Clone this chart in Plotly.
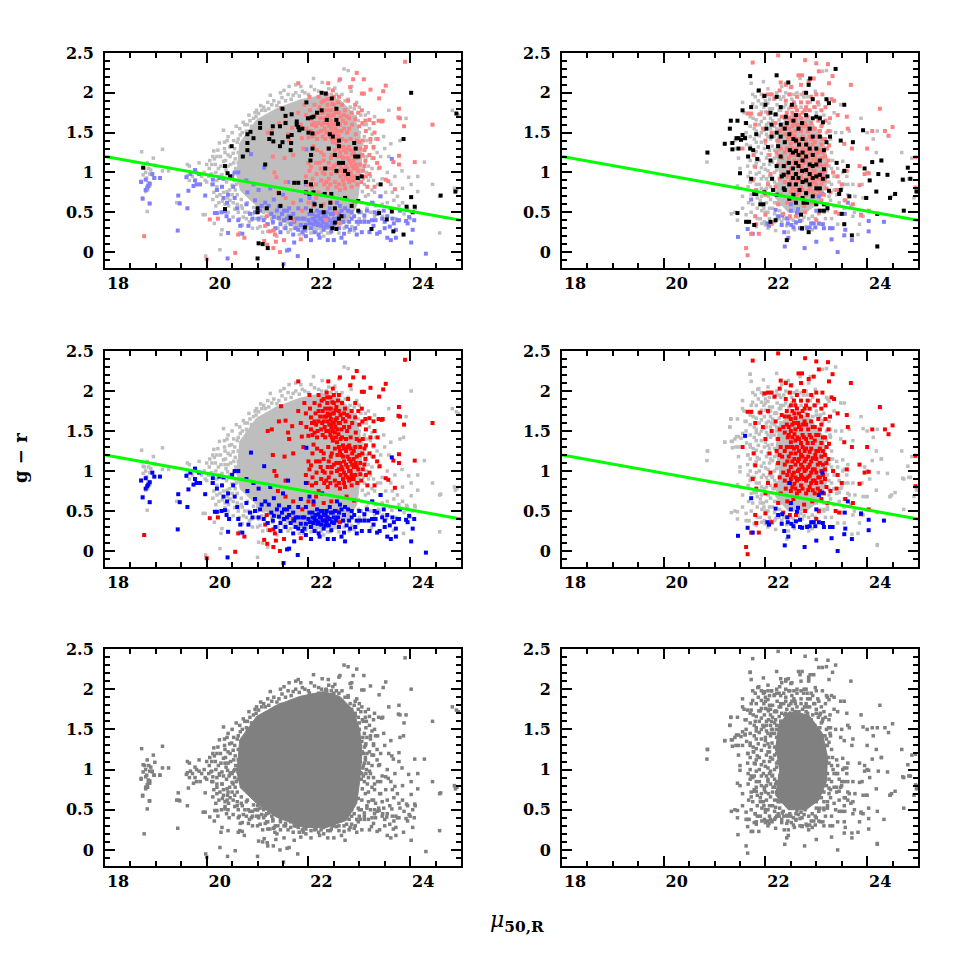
import plotly.graph_objects as go
from plotly.subplots import make_subplots

# values; the overplotted centre of each cloud is an outline
xticks = [18, 20, 22, 24]
yticks = [0, 0.5, 1, 1.5, 2, 2.5]
ylabels = ["0", "0.5", "1", "1.5", "2", "2.5"]
line_x = [18, 25]
line_y = [1.2, 0.4]

left_core = [(20.59,0.95),(20.65,1.37),(20.98,1.66),(21.37,1.80),(21.83,1.91),(22.29,1.97),(22.62,1.91),(22.88,1.74),
 (23.01,1.49),(23.05,1.20),(23.01,0.87),(22.95,0.58),(22.75,0.37),(22.36,0.28),(21.90,0.28),(21.37,0.41),(20.98,0.58),(20.65,0.78)]

right_core = [(22.25,1.55),(22.47,1.72),(22.85,1.68),(23.12,1.45),(23.22,1.16),(23.2,0.85),(23.05,0.62),(22.8,0.5),
 (22.45,0.5),(22.2,0.68),(22.28,0.99),(22.2,1.3)]

left_gray = [(18.72,1.26),(18.71,0.89),(18.75,0.97),(18.78,1.05),(18.83,1.12),(18.86,1.05),(18.95,1.18),(18.98,1.09),(18.88,0.98),
 (18.82,0.93),(18.85,0.87),(18.88,0.83),(18.8,0.76),(18.74,0.68),(18.83,0.51),(18.87,0.61),(19.13,1.29),(19.08,0.93),(19.13,1.02),
 (19.25,1.02),(18.96,0.93),(18.8,1.0),(18.9,1.03),(18.93,0.97),(18.84,0.78),(19.41,0.62),(19.45,0.62),(19.62,1.1),(19.66,1.08),
 (19.62,0.96),(19.66,0.9),(19.85,1.12),(19.8,1.0),(19.72,0.95),(19.9,0.95),(19.95,1.0),(19.97,0.9),(20.0,0.88),(19.93,0.47),(19.97,0.47),
 (20.0,1.1),(19.98,-0.05),(20.15,0.36),(20.26,0.03),(20.28,0.22),(20.3,0.28),(20.05,1.05),(20.06,1.15),(20.08,0.97),(20.1,0.85),
 (20.12,1.2),(20.14,1.27),(20.17,1.1),(20.18,1.0),(20.2,0.9),(20.2,0.82),(20.2,0.7),(20.22,1.28),(20.25,1.37),(20.27,1.2),(20.28,1.08),
 (20.3,0.97),(20.3,0.82),(20.31,0.64),(20.33,1.53),(20.35,1.38),(20.36,1.25),(20.37,1.15),(20.38,1.03),(20.39,0.88),(20.4,0.76),
 (20.41,0.68),(20.43,0.58),(20.45,1.32),(20.46,1.2),(20.47,1.1),(20.48,0.96),(20.5,0.84),(20.5,0.72),(20.52,0.62),(20.53,1.4),
 (20.55,1.3),(20.56,1.17),(20.57,1.05),(20.58,0.85),(20.6,0.72),(20.6,0.6),(20.62,0.5),(20.65,1.55),(20.66,1.47),(20.68,0.66),
 (20.7,0.55),(20.72,0.44),(20.75,1.6),(20.78,1.52),(20.8,0.62),(20.82,0.5),(20.84,0.38),(20.85,1.65),(20.88,1.58),(20.9,0.48),
 (20.95,1.75),(20.97,1.7),(21.0,0.5),(21.02,0.4),(21.05,0.32),(21.08,1.78),(21.12,1.82),(21.15,0.43),(21.18,0.35),(21.2,0.26),
 (21.25,1.97),(21.28,1.85),(21.3,0.36),(21.33,0.28),(21.38,0.2),(21.42,1.88),(21.48,1.94),(21.52,2.03),(21.55,0.33),(21.6,0.25),
 (21.62,2.08),(21.7,1.97),(21.75,2.1),(21.78,0.3),(21.82,0.22),(21.88,2.02),(21.93,2.0),(22.05,2.08),(22.1,2.18),(22.2,2.02),
 (22.27,2.13),(22.3,0.2),(22.4,2.05),(22.43,0.24),(22.52,2.06),(22.6,2.15),(22.7,2.3),(22.78,2.28),(22.84,2.02),(22.85,2.08),
 (22.9,0.27),(22.95,1.88),(23.0,1.82),(23.03,1.72),(23.08,1.6),(23.1,1.45),(23.12,1.3),(23.12,1.12),(23.14,1.0),(23.1,0.85),
 (23.12,0.7),(23.15,0.55),(23.1,0.42),(23.18,1.75),(23.2,1.55),(23.22,1.38),(23.25,1.18),(23.22,0.95),(23.25,0.78),(23.28,0.62),
 (23.22,0.5),(23.3,1.7),(23.32,1.42),(23.35,1.25),(23.38,1.05),(23.36,0.85),(23.4,0.7),(23.38,0.52),(23.48,1.45),(23.5,1.3),(23.55,1.0),
 (23.52,0.75),(23.55,0.62),(23.58,1.78),(23.62,1.36),(23.65,0.75),(23.68,0.65),(23.7,0.95),(23.72,0.42),(23.8,1.4),(23.84,1.02),
 (23.85,0.8),(23.92,1.68),(23.97,0.94),(24.02,0.85),(24.1,0.55),(24.15,0.95),(24.15,0.76),(24.28,1.13),(24.44,0.85),(24.58,0.7),
 (24.58,0.24),(24.83,1.78),(24.87,0.8),(24.95,1.72),(24.92,0.78),
 (20.42,1.45),(20.5,1.5),(20.58,1.58),(20.62,1.42),(20.7,1.5),(20.72,1.63),(20.8,1.6),(20.83,1.72),(20.92,1.68),(20.98,1.78),(21.02,1.74),(21.06,1.84),(21.15,1.78),(21.2,1.88),
 (21.22,1.8),(21.32,1.9),(21.38,1.84),(21.45,2.0),(21.55,1.9),(21.6,1.98),(21.66,1.92),(21.75,2.0),(21.82,1.96),(21.85,2.08),(22.0,1.98),(22.12,2.04),(22.35,2.0),(22.45,1.98),
 (22.55,1.98),(22.66,1.98),(22.72,1.9),(22.78,1.92),(22.82,1.82),(22.9,1.8),(22.92,1.7),(22.98,1.65),(23.0,1.5),(23.05,1.35),(23.08,1.2),(23.08,1.05),(23.08,0.92),(23.06,0.76),
 (23.05,0.62),(23.04,0.5),(23.0,0.42),(22.98,0.35),(22.85,0.32),(22.8,0.25),(22.7,0.3),(22.6,0.24),(22.5,0.3),(22.38,0.24),(22.25,0.25),(22.15,0.26),(22.05,0.24),(21.95,0.26),
 (21.9,0.22),(21.72,0.3),(21.65,0.28),(21.68,0.36),(21.52,0.3),(21.45,0.38),(21.4,0.3),(21.28,0.42),(21.22,0.46),(21.12,0.5),(21.08,0.44),(20.98,0.42),(20.92,0.56),(20.88,0.4),
 (20.75,0.5),(20.68,0.58),(20.64,0.42),(20.55,0.54),(20.52,0.44),(20.46,0.65),(20.42,0.5),(20.36,0.6),(20.33,0.75),(20.26,0.72),(20.24,0.62),(20.18,0.58),(20.14,0.75),(20.12,0.66),
 (20.1,0.98),(20.04,0.95),(20.1,1.1),(20.15,1.17),(20.2,1.2),(20.23,1.05),(20.25,0.95),(20.33,1.14),(20.35,1.3),(20.4,1.4),(20.42,1.22),(20.42,1.08),(20.44,0.92),(20.45,0.78),
 (20.52,1.24),(20.53,1.12),(20.53,0.98),(20.55,0.9),(20.56,0.78),(20.6,1.38),(20.62,1.25),(20.62,1.12),(20.6,1.0),(20.62,0.88),(23.15,1.2),(23.18,1.08),(23.18,0.9),(23.18,0.72),
 (23.18,0.6),(23.25,1.05),(23.28,0.9),(23.3,0.75),(23.32,0.58),(23.3,0.45),(23.15,1.4),(23.14,1.6),(23.12,1.72),(23.25,1.48),(23.28,1.3),(23.42,1.2),(23.45,0.92),(23.45,0.6),(23.46,0.45),
 (23.58,1.2),(23.6,0.55),(23.62,0.85),(23.75,0.7),(23.78,0.58),(23.85,0.62),(23.88,0.48),(23.95,0.55),(24.0,0.42),(20.65,0.24),(20.7,0.34),(20.78,0.42),(20.9,0.3),(21.0,0.3),(21.1,0.25)]

left_red = [(23.9,2.39),(22.95,2.25),(22.88,2.17),(23.09,2.17),(21.8,2.12),(22.39,2.12),(22.62,2.17),(22.82,2.07),(23.52,2.09),(23.22,2.04),
 (23.47,2.02),(23.05,1.99),(23.09,1.99),(23.39,1.93),(22.02,1.95),(21.46,1.81),(24.44,1.6),(23.78,1.8),(23.77,1.69),(23.8,1.68),(23.88,1.58),
 (24.09,1.13),(23.78,1.21),(23.78,1.10),(23.67,1.13),(23.7,0.79),(23.52,0.91),(23.57,0.89),(18.77,0.2),(20.06,0.41),(20.22,0.42),(20.0,-0.09),
 (20.56,-0.01),(20.62,0.22),(20.74,0.18),(21.13,0.14),(21.19,0.09),(21.31,0.05),(21.44,0),(21.36,0.13),(21.52,0.15),(21.24,0.26),(21.31,0.27),
 (21.18,0.45),(21.15,0.33),(21.34,0.22),(21.85,0.16),(21.28,1.52),(21.2,1.5),(21.42,1.62),(21.55,1.63),(21.6,1.48),(21.62,1.4),(21.68,1.56),
 (21.3,1.2),(21.53,1.18),(21.7,1.22),(21.33,1.0),(21.37,0.94),(21.55,0.88),(21.4,0.75),(21.55,0.68),(21.7,0.62),
 (21.8,1.75),(21.85,1.6),(21.87,1.43),(21.9,1.3),(21.92,1.85),(21.95,1.72),(21.96,1.55),(22.0,1.44),(22.0,1.12),(22.02,1.02),(21.95,0.95),
 (21.98,0.85),(22.03,1.78),(22.05,1.67),(22.07,1.6),(22.08,1.45),(22.1,1.33),(22.08,1.22),(22.05,1.07),(22.08,0.92),(22.07,0.82),
 (22.12,1.85),(22.14,1.72),(22.15,1.58),(22.17,1.42),(22.17,1.28),(22.15,1.12),(22.16,0.98),(22.15,0.85),(22.2,0.75),
 (22.2,1.95),(22.22,1.82),(22.23,1.68),(22.25,1.52),(22.25,1.25),(22.24,1.05),(22.25,0.9),(22.27,1.6),(22.28,1.75),(22.3,1.9),
 (22.31,1.68),(22.32,1.55),(22.33,1.42),(22.3,1.15),(22.32,0.98),(22.31,0.85),(22.36,1.98),(22.37,1.85),(22.38,1.72),(22.38,1.62),
 (22.4,1.5),(22.39,1.3),(22.38,1.05),(22.4,0.92),(22.38,0.8),(22.43,1.92),(22.44,1.78),(22.44,1.65),(22.45,1.55),(22.46,1.42),(22.44,1.18),
 (22.45,0.98),(22.48,2.03),(22.5,1.85),(22.5,1.72),(22.5,1.6),(22.52,1.48),(22.52,1.28),(22.5,1.08),(22.52,0.88),(22.55,1.8),(22.56,1.66),
 (22.57,1.52),(22.56,1.36),(22.57,1.2),(22.56,1.0),(22.55,0.82),(22.6,1.95),(22.6,1.75),(22.62,1.6),(22.63,1.4),(22.62,1.25),(22.62,1.1),
 (22.63,0.95),(22.6,0.85),(22.66,1.85),(22.68,1.65),(22.68,1.32),(22.68,1.18),(22.67,1.02),(22.68,0.9),(22.72,1.78),(22.73,1.62),(22.74,1.4),
 (22.74,1.25),(22.74,1.08),(22.73,0.95),(22.72,0.8),(22.78,1.9),(22.8,1.68),(22.8,1.55),(22.8,1.32),(22.8,1.15),(22.8,1.0),(22.8,0.88),
 (22.85,1.75),(22.86,1.6),(22.86,1.22),(22.86,1.08),(22.85,0.95),(22.85,0.82),(22.92,1.85),(22.92,1.67),(22.93,1.48),(22.92,1.3),(22.93,1.1),
 (22.92,0.95),(22.98,1.75),(23.0,1.58),(23.0,1.38),(23.0,1.2),(22.98,1.02),(23.05,1.78),(23.06,1.62),(23.07,1.4),(23.06,1.22),(23.07,1.02),
 (23.04,0.88),(23.12,1.65),(23.13,1.52),(23.13,1.32),(23.12,1.15),(23.13,0.95),(23.2,1.66),(23.22,1.42),(23.2,1.22),(23.2,0.98),(23.16,0.82),
 (23.28,1.62),(23.3,1.5),(23.28,1.32),(23.28,1.18),(23.3,0.82),(23.38,1.65),(23.36,1.42),(23.35,1.12),(23.4,1.06),(23.44,1.64),(23.46,1.65),
 (21.7,0.4),(22.0,0.62),(22.1,0.58),(22.3,0.6),(22.45,0.62),(22.55,0.5),(22.62,0.36),(22.35,0.4),(21.88,0.52),(22.15,0.68),(22.75,0.68),(22.9,0.63),
 (22.2,1.75),(22.26,1.88),(22.3,1.62),(22.33,1.78),(22.35,1.68),(22.35,1.5),(22.37,1.92),(22.4,1.78),(22.41,1.58),(22.42,1.7),(22.43,1.45),(22.47,1.86),(22.47,1.72),(22.47,1.6),(22.48,1.5),
 (22.48,1.38),(22.5,1.95),(22.53,1.76),(22.53,1.64),(22.53,1.55),(22.54,1.42),(22.58,1.88),(22.59,1.6),(22.59,1.46),(22.6,1.3),(22.63,1.7),(22.65,1.52),(22.66,1.42),(22.65,1.2),(22.65,1.05),
 (22.7,1.72),(22.7,1.55),(22.7,1.28),(22.7,1.12),(22.7,0.98),(22.7,0.85),(22.76,1.7),(22.76,1.5),(22.77,1.3),(22.77,1.18),(22.77,1.05),(22.77,0.92),(22.83,1.42),(22.83,1.28),(22.83,1.12),(22.83,1.0),
 (22.83,0.9),(22.89,1.25),(22.89,1.15),(22.89,1.05),(22.89,0.9),(22.95,1.4),(22.95,1.18),(22.95,1.05),(22.96,0.85),(23.02,1.3),(23.02,1.1),(23.02,0.96),(23.1,1.28),(23.1,1.08),(22.2,1.62),(22.18,1.5),
 (22.12,1.62),(22.12,1.48),(22.05,1.52),(22.28,1.45),(22.3,1.22),(22.22,1.12),(22.28,1.0),(22.4,1.12),(22.46,1.22),(22.46,1.05),(22.35,0.88),(22.43,0.85),(22.55,1.1),(22.6,1.02),(22.62,0.78)]

left_blue = [(18.71,0.88),(18.8,0.91),(18.93,0.98),(18.97,0.93),(19.08,0.93),(18.88,0.86),(18.85,0.83),(18.83,0.81),(18.8,0.78),(18.74,0.67),
 (18.88,0.61),(19.44,0.71),(19.47,0.61),(19.43,0.27),(19.62,0.55),(19.6,0.94),(19.68,0.98),(19.77,1.03),(19.85,0.98),(19.64,0.77),(19.74,0.83),
 (19.8,0.85),(19.87,0.85),(19.77,0.9),(19.97,0.71),(20.12,0.91),(20.25,0.93),(20.33,0.92),(20.16,0.49),(20.2,0.49),(20.29,0.5),(20.36,0.51),
 (20.39,0.45),(20.44,0.4),(20.42,0.24),(20.41,-0.08),(21.51,-0.15),(21.79,-0.05),(24.31,-0.02),(24.02,0.12),(20.87,1.23),(21.13,1.06),(21.96,1.29),
 (23.64,1.17),(20.12,0.85),(20.2,0.78),(20.3,0.82),(20.33,0.68),(20.4,0.62),(20.42,0.72),(20.5,0.95),(20.55,1.0),(20.62,1.0),(20.52,0.82),
 (20.55,0.68),(20.6,0.55),(20.62,0.4),(20.66,0.33),(20.7,0.23),(20.78,0.9),(20.8,0.75),(20.78,0.6),(20.85,0.48),(20.82,0.33),(20.92,0.85),
 (20.95,0.65),(20.95,0.5),(21.02,0.42),(21.02,0.78),(21.08,0.58),(21.12,0.4),(21.2,0.35),(21.25,0.8),(21.22,0.58),(21.27,0.48),(21.3,0.38),
 (21.35,0.3),(21.32,0.66),(21.42,0.57),(21.42,0.43),(21.45,0.35),(21.45,0.25),(21.5,0.72),(21.52,0.52),(21.52,0.4),(21.55,0.3),(21.6,0.88),
 (21.62,0.55),(21.62,0.45),(21.65,0.35),(21.7,0.22),(21.72,0.12),(21.62,0.03),(21.58,0.02),(21.75,0.42),(21.8,0.55),(21.8,0.28),(21.85,0.65),
 (21.88,0.42),(21.88,0.25),(21.95,0.85),(21.95,0.55),(21.95,0.34),(21.95,0.2),(22.02,0.68),(22.02,0.48),(22.05,0.3),(22.05,0.15),(22.1,0.62),
 (22.12,0.4),(22.12,0.25),(22.17,0.52),(22.18,0.34),(22.22,0.42),(22.22,0.18),(22.27,0.72),(22.28,0.5),(22.28,0.38),(22.3,0.28),(22.34,0.45),
 (22.36,0.36),(22.38,0.15),(22.42,0.55),(22.42,0.4),(22.45,0.26),(22.48,0.48),(22.5,0.35),(22.5,0.15),(22.56,0.62),(22.58,0.42),(22.6,0.3),
 (22.65,0.52),(22.68,0.38),(22.7,0.23),(22.72,0.12),(22.78,0.52),(22.8,0.38),(22.82,0.28),(22.9,0.45),(22.95,0.22),(23.0,0.5),(23.02,0.38),
 (23.05,0.25),(23.1,0.38),(23.15,0.52),(23.18,0.38),(23.2,0.25),(23.25,0.62),(23.3,0.5),(23.32,0.4),(23.35,0.23),(23.42,0.7),(23.45,0.42),
 (23.48,0.52),(23.5,0.3),(23.55,0.18),(23.55,0.45),(23.6,0.32),(23.62,0.15),(23.68,0.36),(23.72,0.28),(23.75,0.4),(23.8,0.52),(23.95,0.36),
 (23.98,0.44),(24.05,0.28),(24.08,0.4),(23.92,0.39),(23.78,0.4),(23.4,0.25),(23.28,0.33),(22.92,0.3),(22.65,0.18),(22.2,0.22),(22.08,0.48),
 (22.0,0.4),(22.03,0.36),(22.08,0.42),(22.1,0.35),(22.14,0.45),(22.15,0.38),(22.2,0.46),(22.2,0.36),(22.24,0.5),(22.25,0.33),(22.25,0.42),(22.3,0.45),(22.32,0.38),(22.33,0.32),(22.36,0.5),
 (22.38,0.42),(22.4,0.32),(22.44,0.48),(22.46,0.36),(22.5,0.42),(22.52,0.5),(22.54,0.38),(22.6,0.48),(22.62,0.58),(22.7,0.45),(22.72,0.55),(22.75,0.32),(22.85,0.42),(22.85,0.5),(22.95,0.38),
 (21.7,0.48),(21.72,0.38),(21.75,0.3),(21.8,0.42),(21.85,0.34),(21.92,0.42),(21.92,0.28),(21.58,0.42),(21.58,0.52),(21.48,0.48),(21.38,0.52),(21.32,0.44),(21.15,0.62),(21.05,0.52),(20.9,0.42),
 (23.1,0.46),(23.25,0.4),(23.35,0.48),(23.5,0.38),(23.65,0.42),(23.72,0.18)]

left_black = [(18.75,1.06),(20.36,1.08),(20.49,1.33),(20.41,0.99),(20.46,0.95),(20.36,0.54),(20.71,1.2),(20.8,1.37),(20.8,1.28),(20.8,1.48),
 (20.86,1.51),(20.92,1.43),(21.05,1.62),(21.05,1.56),(21.15,1.1),(21.23,1.42),(21.28,1.49),(21.3,1.58),(21.44,1.58),(21.31,1.39),(21.44,1.33),
 (21.49,1.38),(21.49,1.8),(21.55,1.71),(21.67,1.73),(21.6,1.45),(21.67,1.47),(21.55,1.62),(21.77,1.64),(21.77,1.6),(21.8,1.57),(21.88,1.55),
 (21.82,1.53),(21.66,1.37),(21.65,1.28),(21.96,1.88),(21.99,1.68),(22.06,1.69),(22.1,1.7),(22.17,1.75),(22.26,1.78),(22.26,2.0),(22.34,1.99),
 (22.46,1.93),(22.55,1.8),(22.36,1.66),(22.55,1.66),(22.58,1.61),(24.02,2.0),(23.87,1.42),(24.91,1.74),(24.6,0.71),(24.89,0.76),(24.02,0.69),
 (23.93,0.57),(24.09,0.57),(24.05,0.5),(23.42,0.85),(23.87,0.22),(23.67,0.26),(23.54,0.41),(23.24,0.29),(23.39,0.49),(23.64,0.51),(22.0,1.5),
 (22.08,1.49),(22.42,1.48),(22.48,1.45),(22.6,1.4),(22.6,1.33),(22.05,1.22),(22.08,1.3),(22.04,1.15),(22.4,1.3),(22.52,1.22),(22.9,1.37),
 (22.93,1.3),(22.92,1.2),(22.98,1.2),(22.68,1.12),(22.6,1.12),(22.55,1.02),(22.72,1.02),(22.33,1.05),(22.78,0.98),(22.97,0.93),(23.05,0.95),
 (21.8,0.87),(21.72,0.87),(21.95,0.88),(22.05,0.85),(22.1,0.75),(22.02,0.73),(21.42,0.74),(21.95,0.75),(22.32,0.73),(22.45,0.73),(21.0,0.55),
 (21.0,0.5),(21.18,0.55),(21.45,0.58),(21.65,0.43),(22.05,0.52),(22.12,0.6),(22.25,0.58),(22.3,0.5),(22.43,0.62),(22.52,0.55),(22.65,0.45),
 (22.72,0.68),(22.85,0.58),(22.98,0.64),(22.98,0.52),(22.52,0.37),(22.6,0.42),(22.47,0.3),(22.55,0.29),(21.93,0.31),(21.2,0.05),(21.02,0.11),(21.0,-0.08),(21.1,0.1)]

right_gray = [(20.86,1.25),(20.85,1.13),(21.33,0.48),(21.4,0.5),(21.45,0.4),(21.2,1.36),(21.33,1.37),(21.32,1.65),(21.3,1.55),(21.4,1.4),(21.42,1.3),
 (21.47,1.18),(21.5,1.05),(21.45,0.83),(21.5,0.8),(21.55,0.7),(21.55,0.55),(21.62,0.47),(21.65,0.38),(21.55,1.88),(21.58,1.75),(21.6,1.62),(21.62,1.5),
 (21.63,1.35),(21.65,1.2),(21.65,1.08),(21.66,0.95),(21.66,0.82),(21.67,0.62),(21.7,2.21),(21.72,2.12),(21.75,1.98),(21.75,1.86),(21.76,1.68),
 (21.78,1.55),(21.78,1.42),(21.76,1.22),(21.78,1.08),(21.78,0.92),(21.78,0.75),(21.75,0.6),(21.8,0.45),(21.82,0.32),(21.85,2.02),(21.86,1.9),(21.87,1.73),
 (21.88,1.6),(21.88,1.46),(21.86,1.32),(21.88,1.15),(21.88,1.0),(21.88,0.85),(21.9,0.65),(21.9,0.42),(21.96,2.14),(21.96,1.95),(21.97,1.82),(21.98,1.68),
 (21.97,1.53),(21.98,1.3),(21.97,1.1),(21.96,0.95),(21.98,0.78),(21.97,0.55),(21.98,0.38),(22.05,2.05),(22.05,1.87),(22.06,1.73),(22.06,1.62),(22.05,1.45),
 (22.05,1.22),(22.05,1.02),(22.05,0.88),(22.06,0.7),(22.05,0.5),(22.05,0.3),(22.12,1.98),(22.14,1.8),(22.14,1.65),(22.14,1.5),(22.13,1.33),(22.14,1.13),
 (22.14,0.93),(22.14,0.72),(22.14,0.55),(22.13,0.35),(22.22,2.0),(22.23,1.85),(22.22,1.72),(22.22,1.55),(22.22,1.4),(22.22,1.2),(22.22,1.03),(22.22,0.85),
 (22.23,0.62),(22.22,0.42),(22.2,0.27),(22.32,2.08),(22.3,1.92),(22.3,1.78),(22.31,1.6),(22.32,1.38),(22.32,1.1),(22.32,0.9),(22.3,0.6),(22.32,0.38),
 (22.4,2.12),(22.4,2.0),(22.4,1.85),(22.42,0.43),(22.42,0.33),(22.45,0.25),(22.52,2.08),(22.52,1.92),(22.55,0.4),(22.57,0.28),(22.62,2.0),(22.68,2.18),
 (22.75,1.95),(22.72,0.4),(22.8,0.32),(22.85,2.12),(22.88,1.88),(22.92,0.45),(22.92,0.28),(22.98,2.02),(23.05,1.85),(23.05,0.48),(23.08,0.35),
 (23.12,2.27),(23.2,2.28),(23.22,1.9),(23.25,1.62),(23.28,1.42),(23.3,1.25),(23.3,1.05),(23.3,0.85),(23.28,0.65),(23.3,0.42),(23.35,1.75),(23.38,1.5),
 (23.4,0.95),(23.4,0.72),(23.42,0.35),(23.48,1.85),(23.5,1.5),(23.52,1.14),(23.52,1.0),(23.55,0.85),(23.55,0.65),(23.6,0.95),(23.62,0.72),(23.65,1.52),
 (23.72,0.85),(23.72,0.45),(23.76,0.7),(23.82,0.22),(23.88,1.68),(23.9,0.85),(23.92,0.68),(23.92,0.45),(24.0,1.5),(24.0,1.0),(24.0,0.68),(24.12,1.42),
 (24.2,0.08),(24.18,1.25),(24.2,1.52),(24.28,1.15),(24.45,0.68),(24.48,0.7),(24.68,1.25),(24.72,0.9),(24.82,0.92),(24.88,1.18),(24.92,0.68),(24.98,0.8),
 (21.7,1.7),(21.7,1.58),(21.7,1.45),(21.7,1.33),(21.7,1.15),(21.7,1.0),(21.7,0.88),(21.72,0.72),(21.72,0.5),(21.8,1.95),(21.82,1.82),(21.82,1.66),(21.82,1.52),(21.82,1.38),(21.82,1.26),
 (21.82,1.12),(21.82,0.98),(21.82,0.85),(21.84,0.68),(21.84,0.55),(21.84,0.42),(21.92,1.98),(21.92,1.86),(21.92,1.76),(21.92,1.64),(21.92,1.5),(21.92,1.38),(21.92,1.24),(21.92,1.06),(21.92,0.92),
 (21.92,0.8),(21.92,0.7),(21.93,0.52),(21.93,0.36),(22.0,1.9),(22.0,1.76),(22.02,1.6),(22.02,1.48),(22.0,1.36),(22.02,1.18),(22.0,1.04),(22.02,0.92),(22.02,0.8),(22.02,0.62),(22.0,0.5),(22.0,0.34),
 (22.08,1.92),(22.08,1.8),(22.1,1.68),(22.1,1.55),(22.1,1.42),(22.08,1.28),(22.08,1.1),(22.08,0.95),(22.1,0.82),(22.1,0.66),(22.08,0.55),(22.08,0.42),(22.17,1.92),(22.18,1.72),(22.18,1.58),(22.18,1.45),
 (22.18,1.28),(22.18,1.18),(22.18,1.0),(22.18,0.88),(22.18,0.78),(22.18,0.62),(22.18,0.48),(22.18,0.38),(22.27,1.95),(22.27,1.78),(22.27,1.66),(22.28,0.52),(22.27,0.42),(22.36,1.95),(22.36,1.82),(22.36,0.42),
 (22.46,1.98),(22.46,1.8),(22.5,0.42),(22.56,1.98),(22.58,1.85),(22.6,0.38),(22.65,0.44),(22.7,1.98),(22.7,1.82),(22.76,0.44),(22.82,1.95),(22.82,1.78),(22.85,0.42),(22.95,1.82),(22.98,0.42),(23.0,1.75),
 (23.08,1.7),(23.12,1.6),(23.15,1.72),(23.2,1.5),(23.22,1.3),(23.25,1.08),(23.25,0.88),(23.25,0.7),(23.22,0.52),(23.15,0.5),(23.18,0.42),(23.28,1.52),(23.32,1.15),(23.35,0.95),(23.35,0.78),(23.35,0.58),
 (23.42,1.05),(23.45,0.88),(23.45,0.62),(23.5,0.8),(23.55,0.55),(23.62,0.85),(23.68,0.58),(23.75,0.5),(23.85,0.35)]

right_red = [(22.25,2.47),(21.75,2.38),(22.78,2.41),(23.0,2.37),(23.23,2.36),(23.05,2.27),(22.65,2.22),(22.72,2.22),(22.95,2.18),(23.32,2.21),(23.25,2.12),
 (23.68,2.1),(22.85,2.15),(22.7,2.1),(22.5,2.07),(22.3,2.13),(22.4,2.1),(22.12,1.98),(21.98,1.97),(22.05,1.98),(22.28,2.03),(23.0,1.98),(23.12,1.98),(23.3,1.92),
 (23.35,1.9),(24.25,1.8),(24.1,1.52),(24.35,1.52),(24.42,1.46),(24.5,1.57),(24.95,1.19),(24.0,1.3),(23.85,1.08),(23.95,0.98),(24.03,0.99),(24.95,0.81),(23.85,0.84),
 (24.03,0.52),(23.72,0.6),(23.57,0.65),(23.45,0.48),(23.88,0.46),(23.6,1.7),(23.62,1.55),(23.7,1.3),(23.55,1.36),(23.6,1.02),(23.42,0.95),(23.5,0.85),(21.62,0.05),(21.65,-0.04),
 (21.72,0.23),(21.87,0.23),(21.8,0.45),(22.0,0.47),(22.12,0.36),(21.82,0.35),(21.55,1.3),(21.65,1.74),(21.72,1.74),(21.8,1.6),(21.77,1.22),(21.8,1.07),(21.75,0.9),(21.82,0.78),
 (21.9,1.73),(21.95,1.55),(22.0,1.4),(22.08,1.22),(22.1,0.98),(22.05,0.85),(22.0,0.72),(22.05,1.75),(22.12,1.5),(22.18,1.93),(22.2,1.62),(22.25,1.4),(22.22,1.25),(22.25,1.1),(22.2,0.82),
 (22.25,0.6),(22.32,1.7),(22.35,1.55),(22.3,1.3),(22.33,1.18),(22.35,0.98),(22.3,0.72),(22.4,1.9),(22.42,1.75),(22.42,1.58),(22.44,1.42),(22.42,1.3),(22.43,1.12),(22.43,0.95),(22.4,0.78),
 (22.43,0.62),(22.48,1.98),(22.5,1.82),(22.5,1.65),(22.5,1.5),(22.5,1.36),(22.5,1.22),(22.5,1.05),(22.5,0.9),(22.5,0.75),(22.56,1.88),(22.57,1.72),(22.56,1.6),(22.57,1.46),(22.56,1.28),
 (22.57,1.15),(22.56,0.98),(22.57,0.84),(22.55,0.65),(22.62,1.95),(22.62,1.78),(22.64,1.6),(22.63,1.42),(22.62,1.3),(22.64,1.12),(22.64,1.0),(22.62,0.88),(22.62,0.72),(22.7,1.88),(22.7,1.68),
 (22.7,1.52),(22.7,1.35),(22.7,1.2),(22.7,1.08),(22.7,0.95),(22.7,0.82),(22.76,2.0),(22.77,1.78),(22.77,1.62),(22.76,1.42),(22.77,1.25),(22.77,1.12),(22.77,1.0),(22.76,0.9),(22.76,0.58),(22.83,1.88),
 (22.83,1.7),(22.84,1.52),(22.83,1.35),(22.84,1.18),(22.84,1.05),(22.83,0.92),(22.84,0.76),(22.9,1.95),(22.9,1.62),(22.9,1.42),(22.9,1.28),(22.9,1.12),(22.9,0.98),(22.9,0.85),(22.92,0.62),(22.97,1.82),
 (22.97,1.55),(22.97,1.38),(22.98,1.2),(22.97,1.02),(22.97,0.88),(22.97,0.72),(23.03,1.88),(23.04,1.65),(23.04,1.45),(23.04,1.25),(23.03,1.08),(23.04,0.92),(23.03,0.78),(23.05,0.5),(23.1,1.78),(23.1,1.58),
 (23.1,1.35),(23.1,1.18),(23.1,1.0),(23.1,0.86),(23.1,0.65),(23.18,1.82),(23.18,1.65),(23.17,1.42),(23.17,1.2),(23.17,1.02),(23.17,0.9),(23.15,0.72),(23.22,0.6),(23.27,1.68),(23.24,1.52),(23.25,1.34),
 (23.24,1.15),(23.28,0.75),(23.33,1.0),(23.42,1.72),(23.4,0.78),(23.38,0.5),(22.6,0.45),(22.48,0.45),(22.35,0.48),(22.78,0.5),(23.0,0.4),
 (22.46,1.68),(22.46,1.55),(22.46,1.45),(22.46,1.3),(22.46,1.18),(22.46,1.0),(22.46,0.85),(22.53,1.75),(22.53,1.58),(22.53,1.42),(22.53,1.3),(22.53,1.12),(22.53,0.95),(22.53,0.8),(22.59,1.82),(22.59,1.66),
 (22.59,1.52),(22.59,1.38),(22.59,1.22),(22.59,1.08),(22.59,0.92),(22.59,0.78),(22.66,1.72),(22.66,1.55),(22.66,1.4),(22.66,1.25),(22.66,1.15),(22.66,1.02),(22.66,0.9),(22.66,0.75),(22.73,1.75),(22.73,1.58),
 (22.73,1.45),(22.73,1.3),(22.73,1.18),(22.73,1.05),(22.73,0.92),(22.73,0.78),(22.8,1.82),(22.8,1.58),(22.8,1.4),(22.8,1.28),(22.8,1.15),(22.8,1.02),(22.8,0.88),(22.8,0.72),(22.87,1.78),(22.87,1.45),(22.87,1.24),
 (22.87,1.08),(22.87,0.94),(22.87,0.8),(22.93,1.55),(22.93,1.35),(22.93,1.16),(22.93,1.02),(22.93,0.88),(22.93,0.76),(23.0,1.45),(23.0,1.25),(23.0,1.15),(23.0,0.98),(23.0,0.85),(23.07,1.52),(23.07,1.28),(23.07,1.1),
 (23.07,0.92),(23.07,0.75),(23.13,1.42),(23.13,1.25),(23.13,1.08),(23.13,0.95),(23.2,1.3),(23.2,1.1),(23.2,0.8),(22.38,1.68),(22.38,1.48),(22.38,1.25),(22.38,1.08),(22.38,0.88),(22.28,1.52),(22.28,1.2),(22.28,0.92)]

right_blue = [(21.6,1.44),(21.46,0.19),(21.65,0.29),(21.72,0.66),(21.75,0.23),(22.04,0.36),(22.07,0.33),(22.2,0.53),(22.32,0.34),(22.33,0.46),(22.43,0.42),
 (22.37,0.25),(22.44,0.36),(22.5,0.6),(22.5,0.52),(22.51,0.34),(22.55,0.31),(22.48,0.85),(22.6,0.37),(22.62,0.49),(22.64,0.54),(22.68,0.39),(22.72,0.29),(22.77,0.05),(22.82,0.3),
 (22.87,0.31),(22.95,0.36),(22.98,0.31),(23.0,0.52),(23.0,0.13),(23.05,0.36),(23.05,0.7),(23.12,0.73),(23.12,0.98),(23.13,0.35),(23.15,0.3),(23.27,0.3),(23.32,0.3),(23.3,0.16),(23.42,0.0),
 (23.55,0.21),(23.57,0.28),(23.56,0.48),(23.62,0.62),(23.7,0.15),(23.88,0.47),(24.03,0.39),(24.03,0.26),(24.33,0.38),(22.38,0.07),(22.45,0.18),(22.25,0.45),(22.68,0.3),(22.9,0.36)]

right_black = [(20.86,1.25),(21.2,1.36),(21.32,1.65),(21.3,1.55),(21.35,1.37),(21.35,1.29),(21.47,1.3),(21.45,1.65),(21.43,1.43),(21.47,1.43),(21.52,1.41),(21.55,1.47),(21.6,1.43),(21.55,1.78),
 (21.7,2.21),(21.87,2.03),(22.22,2.22),(21.62,1.62),(21.72,1.82),(21.66,1.2),(21.7,1.3),(21.76,1.28),(21.82,1.48),(21.84,1.17),(21.5,0.99),(21.72,0.92),(21.78,0.73),(21.82,0.73),(21.9,0.6),(21.96,0.6),(21.45,0.49),(21.62,0.38),
 (21.68,0.38),(21.78,0.34),(21.98,0.75),(21.98,1.96),(22.0,1.85),(22.02,1.55),(22.05,1.32),(22.1,1.75),(22.12,1.6),(22.12,1.45),(22.1,1.15),(22.13,0.92),(22.15,0.78),(22.1,0.38),(22.2,0.4),(22.22,1.95),(22.2,1.73),
 (22.22,1.5),(22.25,1.33),(22.22,1.08),(22.22,0.72),(22.3,1.82),(22.3,1.6),(22.3,1.45),(22.3,1.2),(22.32,0.95),(22.36,0.8),(22.4,1.7),(22.38,1.55),(22.38,1.38),(22.36,1.08),(22.36,0.97),(22.38,0.78),(22.45,2.13),(22.42,1.62),
 (22.47,1.48),(22.48,1.28),(22.46,1.12),(22.45,1.0),(22.47,0.85),(22.47,0.67),(22.42,0.15),(22.52,1.85),(22.55,1.65),(22.55,1.42),(22.54,1.25),(22.54,1.05),(22.54,0.93),(22.55,0.72),(22.6,1.72),(22.6,1.4),(22.6,1.27),(22.6,1.12),(22.6,0.98),(22.6,0.85),
 (22.6,0.62),(22.65,1.55),(22.66,1.35),(22.65,1.22),(22.65,1.08),(22.65,0.93),(22.67,0.78),(22.7,0.47),(22.72,0.3),(22.72,1.62),(22.73,1.42),(22.73,1.25),(22.73,1.15),(22.72,1.02),(22.73,0.88),(22.73,0.68),(22.75,0.62),(22.8,2.0),(22.8,1.72),(22.8,1.35),
 (22.8,1.2),(22.8,1.03),(22.8,0.9),(22.8,0.74),(22.82,0.62),(22.85,2.1),(22.88,2.18),(22.87,1.55),(22.87,1.3),(22.87,1.1),(22.87,0.98),(22.87,0.85),(22.85,0.25),(22.93,1.92),(22.93,1.68),(22.93,1.45),(22.93,1.22),(22.93,1.08),(22.93,0.93),(22.93,0.7),(23.0,1.7),
 (23.0,1.3),(23.0,1.1),(23.0,0.95),(23.0,0.8),(23.0,0.6),(23.07,1.68),(23.07,1.45),(23.07,1.15),(23.07,0.97),(23.07,0.8),(23.07,0.52),(23.13,1.63),(23.15,1.28),(23.15,1.04),(23.13,0.92),(23.15,0.6),(23.15,0.52),(23.2,1.38),(23.22,0.95),(23.25,0.77),(23.22,0.55),
 (23.2,1.92),(23.25,1.87),(23.27,1.45),(23.38,2.3),(23.48,1.4),(23.4,1.12),(23.45,0.73),(23.48,0.78),(23.5,0.48),(23.55,1.85),(23.55,1.02),(23.55,0.35),(23.62,1.08),(23.65,0.7),(23.72,1.38),(23.7,0.21),(23.92,1.53),(23.95,1.05),(23.98,0.68),(24.05,0.9),(24.1,1.13),
 (24.18,0.76),(24.2,0.48),(24.2,0.07),(24.22,0.98),(24.28,1.15),(24.4,0.97),(24.45,0.68),(24.55,0.73),(24.7,0.91),(24.72,0.52),(24.8,1.06),(24.85,0.92),(24.97,0.76)]

left_others = left_gray + left_black
right_others = right_gray + right_black
left_all = left_gray + left_red + left_blue + left_black
right_all = right_gray + right_red + right_blue + right_black

width = 969
height = 969
LIGHT = "#bebebe"
DARK = "#808080"
FONT = "DejaVu Serif"

fig = make_subplots(rows=3, cols=2)


def points(xy, color, row, col, size=3.5):
    fig.add_trace(go.Scatter(x=[p[0] for p in xy], y=[p[1] for p in xy], mode="markers",
                             marker=dict(symbol="square", size=size, color=color, line_width=0),
                             showlegend=False), row=row, col=col)


def core(xy, color, row, col):
    fig.add_trace(go.Scatter(x=[p[0] for p in xy], y=[p[1] for p in xy], mode="lines", fill="toself",
                             fillcolor=color, line=dict(color=color, width=1), showlegend=False), row=row, col=col)


def dividing_line(row, col):
    fig.add_trace(go.Scatter(x=line_x, y=line_y, mode="lines", line=dict(color="#00ff00", width=3),
                             showlegend=False), row=row, col=col)


# left column
core(left_core, LIGHT, 1, 1)
points(left_gray, LIGHT, 1, 1)
points(left_blue, "#8080ff", 1, 1, 4)
points(left_red, "#ff8080", 1, 1, 4)
points(left_black, "black", 1, 1, 4)
dividing_line(1, 1)

core(left_core, LIGHT, 2, 1)
points(left_others, LIGHT, 2, 1)
points(left_red, "#ff0000", 2, 1, 4)
points(left_blue, "#0000ff", 2, 1, 4)
dividing_line(2, 1)

core(left_core, DARK, 3, 1)
points(left_all, DARK, 3, 1)

# right column
core(right_core, LIGHT, 1, 2)
points(right_gray, LIGHT, 1, 2)
points(right_blue, "#8080ff", 1, 2, 4)
points(right_red, "#ff8080", 1, 2, 4)
points(right_black, "black", 1, 2, 4)
dividing_line(1, 2)

core(right_core, LIGHT, 2, 2)
points(right_others, LIGHT, 2, 2)
points(right_red, "#ff0000", 2, 2, 4)
points(right_blue, "#0000ff", 2, 2, 4)
dividing_line(2, 2)

core(right_core, DARK, 3, 2)
points(right_all, DARK, 3, 2)

# the page keeps the browser's 8px body margin, so pixels are measured from there
off = 8
fig_w = width - 2 * off
fig_h = height - 2 * off
x_domains = {1: (105, 461), 2: (562, 918)}
y_domains = {1: (53, 268), 2: (351, 567), 3: (649, 866)}

for row in (1, 2, 3):
    for col in (1, 2):
        fig.update_xaxes(domain=[(x_domains[col][0] - off) / fig_w, (x_domains[col][1] - off) / fig_w],
                         range=[18, 25], tickmode="array", tickvals=xticks, ticktext=[str(v) for v in xticks],
                         ticks="inside", ticklen=10, tickwidth=1.5, tickcolor="black", ticklabelshift=13, automargin=False,
                         minor=dict(tickmode="array", tickvals=[18.5 + 0.5 * i for i in range(14)], ticks="inside",
                                    ticklen=5, tickwidth=1.5, tickcolor="black"),
                         showgrid=False, zeroline=False, showline=True, linecolor="black", linewidth=2, mirror="allticks",
                         tickfont=dict(family=FONT, size=16, color="black", weight="bold"), row=row, col=col)
        fig.update_yaxes(domain=[1 - (y_domains[row][1] - off) / fig_h, 1 - (y_domains[row][0] - off) / fig_h],
                         range=[-0.2, 2.5], tickmode="array", tickvals=yticks, ticktext=ylabels,
                         ticks="inside", ticklen=10, tickwidth=1.5, tickcolor="black", ticklabelstandoff=6, automargin=False,
                         minor=dict(tickmode="array", tickvals=[round(-0.1 + 0.1 * i, 1) for i in range(26) if i % 5 != 1],
                                    ticks="inside", ticklen=5, tickwidth=1.5, tickcolor="black"),
                         showgrid=False, zeroline=False, showline=True, linecolor="black", linewidth=2, mirror="allticks",
                         tickfont=dict(family=FONT, size=16, color="black", weight="bold"), row=row, col=col)

fig.add_annotation(text="g \u2212 r", xref="paper", yref="paper", x=(20 - off) / fig_w, y=1 - (458 - off) / fig_h,
                   xanchor="center", yanchor="middle", showarrow=False, textangle=-90,
                   font=dict(family=FONT, size=18, color="black", weight="bold"))
fig.add_annotation(text="<i>\u03bc</i><sub><b>50,R</b></sub>", xref="paper", yref="paper", x=(517 - off) / fig_w, y=1 - (921 - off) / fig_h,
                   xanchor="center", yanchor="middle", showarrow=False, font=dict(family=FONT, size=22, color="black"))

fig.update_layout(width=fig_w, height=fig_h, margin=dict(l=0, r=0, t=0, b=0), paper_bgcolor="white", plot_bgcolor="white",
                  showlegend=False)
fig.write_html("out.html")
